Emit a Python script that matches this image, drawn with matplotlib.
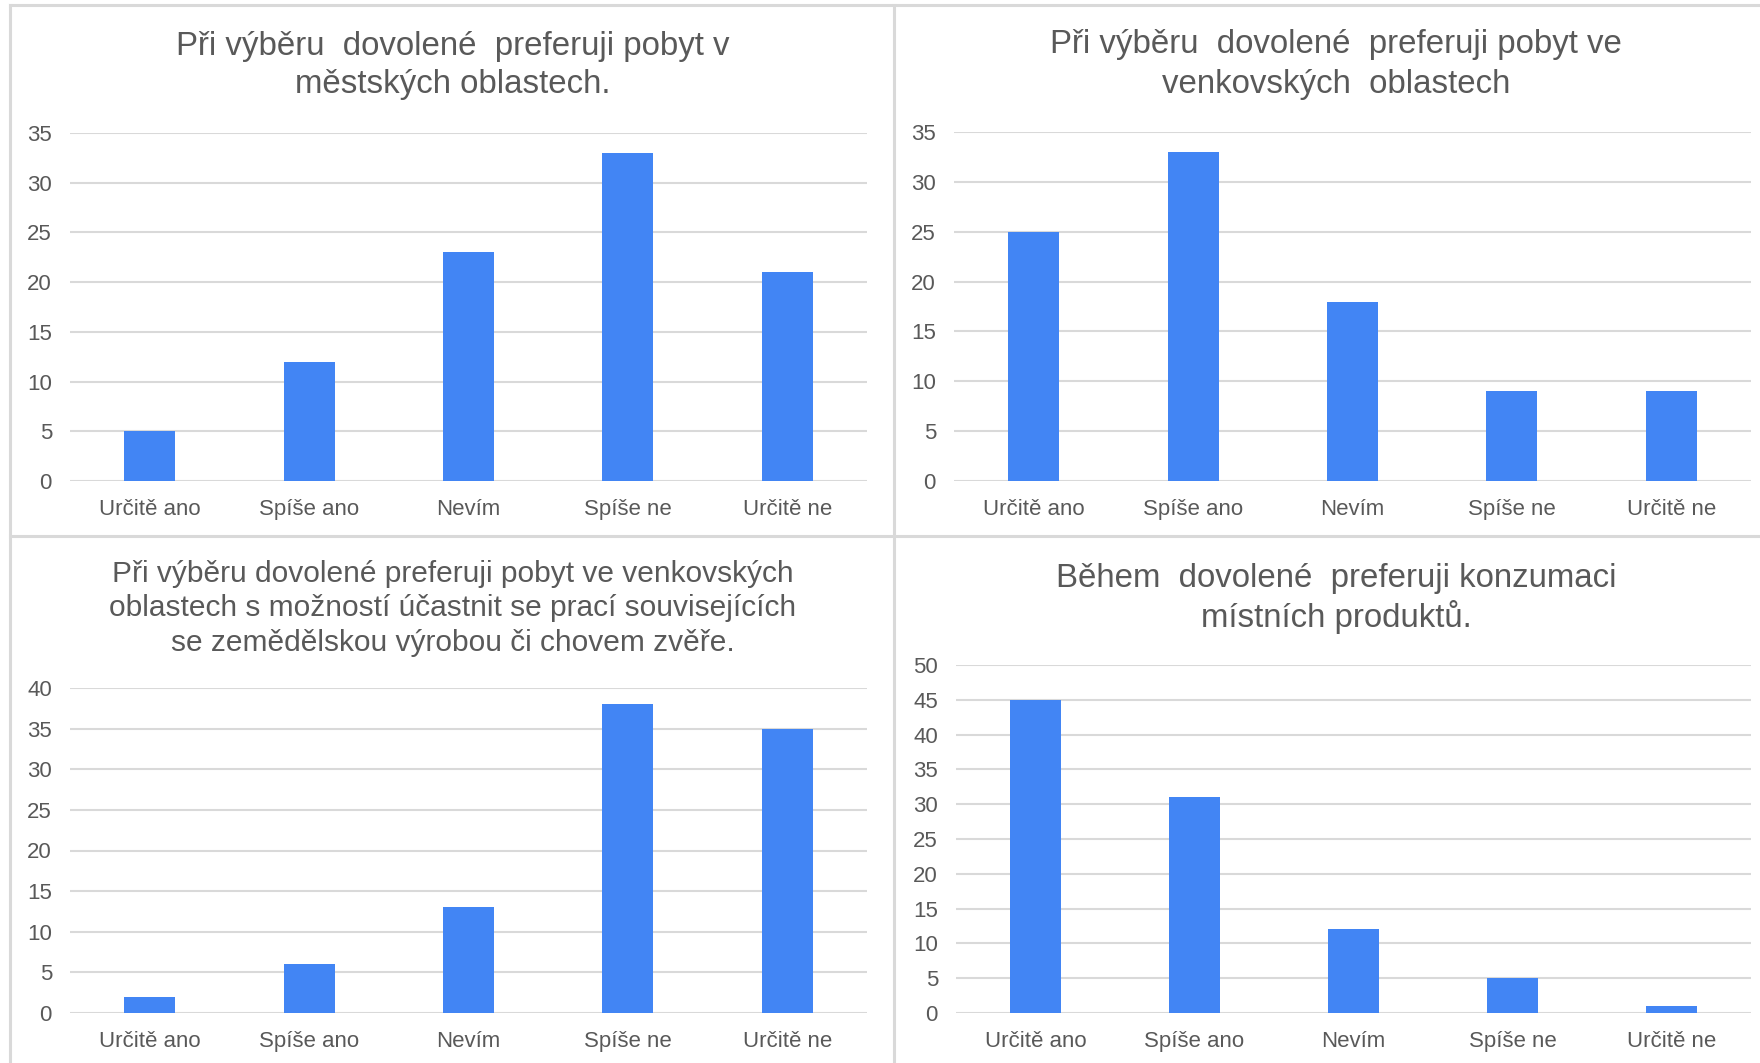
import matplotlib
matplotlib.use("Agg")
import matplotlib.pyplot as plt
from matplotlib.lines import Line2D

plt.rcParams['font.family'] = ['Liberation Sans', 'DejaVu Sans']

W, H = 1760, 1063
BLUE = '#4285F4'
GRID = '#d9d9d9'
TEXT = '#595959'
FRAME = '#d9d9d9'

categories = ['Určitě ano', 'Spíše ano', 'Nevím', 'Spíše ne', 'Určitě ne']

urban_values = [5, 12, 23, 33, 21]
rural_values = [25, 33, 18, 9, 9]
farm_values = [2, 6, 13, 38, 35]
local_values = [45, 31, 12, 5, 1]

urban_title = ['Při výběru  dovolené  preferuji pobyt v', 'městských oblastech.']
rural_title = ['Při výběru  dovolené  preferuji pobyt ve', 'venkovských  oblastech']
farm_title = ['Při výběru dovolené preferuji pobyt ve venkovských',
              'oblastech s možností účastnit se prací souvisejících',
              'se zemědělskou výrobou či chovem zvěře.']
local_title = ['Během  dovolené  preferuji konzumaci', 'místních produktů.']

y_max = [35, 35, 40, 50]

fig = plt.figure(figsize=(W / 100, H / 100), dpi=100)
fig.patch.set_facecolor('white')


def px_axes(x0, y0, x1, y1):
    return fig.add_axes([x0 / W, 1 - y1 / H, (x1 - x0) / W, (y1 - y0) / H])


def draw_panel(ax, values, ymax):
    x = range(len(categories))
    ax.bar(x, values, width=0.32, color=BLUE, zorder=3)
    ax.set_xlim(-0.5, len(categories) - 0.5)
    ax.set_ylim(0, ymax)
    ax.set_yticks(range(0, ymax + 1, 5))
    ax.set_xticks(list(x))
    ax.set_xticklabels(categories)
    ax.grid(axis='y', color=GRID, linewidth=1.5, zorder=0)
    ax.set_axisbelow(True)
    for s in ax.spines.values():
        s.set_visible(False)
    ax.tick_params(axis='both', length=0, labelsize=16, labelcolor=TEXT)
    ax.tick_params(axis='y', pad=13)
    ax.tick_params(axis='x', pad=13)


def draw_title(lines, cx, ys, size):
    for line, y in zip(lines, ys):
        fig.text(cx / W, 1 - y / H, line, ha='center', va='center',
                 fontsize=size, color=TEXT)


ax1 = px_axes(70, 133, 867, 481)
draw_panel(ax1, urban_values, y_max[0])
draw_title(urban_title, 453, [46, 85], 23.8)

ax2 = px_axes(954, 132, 1751, 481)
draw_panel(ax2, rural_values, y_max[1])
draw_title(rural_title, 1336, [45, 84], 23.8)

ax3 = px_axes(70, 688, 867, 1013)
draw_panel(ax3, farm_values, y_max[2])
draw_title(farm_title, 453, [574, 608, 643], 21.5)

ax4 = px_axes(956, 665, 1751, 1013)
draw_panel(ax4, local_values, y_max[3])
draw_title(local_title, 1336, [578, 617], 23.8)

# panel frames
def fline(x0, y0, x1, y1):
    fig.add_artist(Line2D([x0 / W, x1 / W], [1 - y0 / H, 1 - y1 / H],
                          color=FRAME, linewidth=2.2, transform=fig.transFigure))

fline(10, 5, W, 5)
fline(10, 5, 10, H)
fline(894, 5, 894, H)
fline(10, 536, W, 536)

fig.savefig('out.png', dpi=100, facecolor='white')
